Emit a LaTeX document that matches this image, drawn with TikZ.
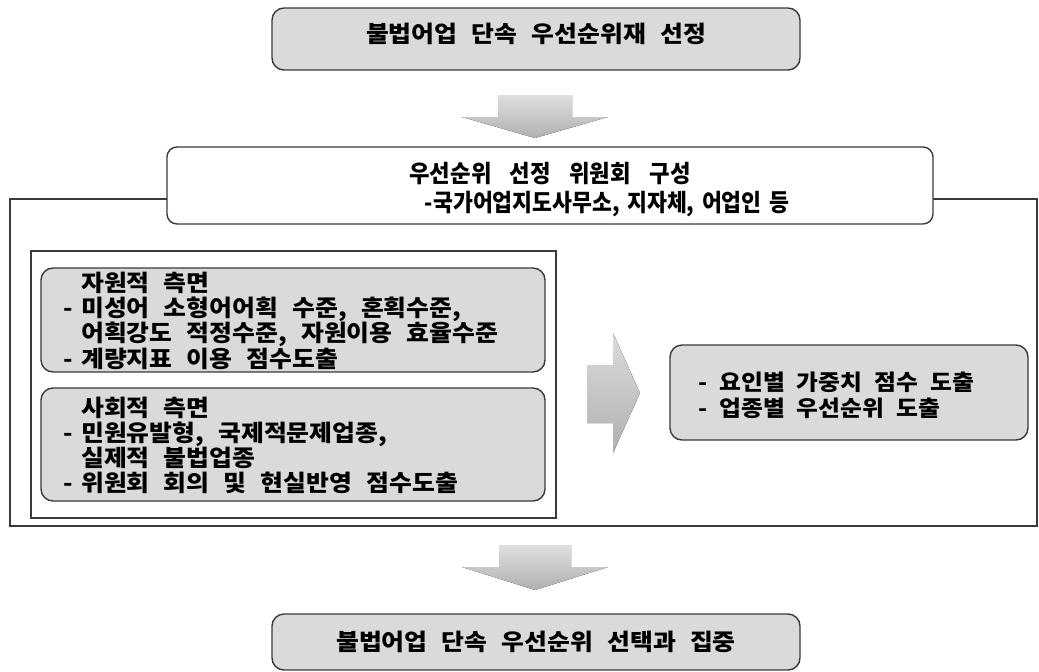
\documentclass[tikz,border=0pt]{standalone}
\usepackage{fontspec}
\newfontfamily\krw[FakeStretch=1.08,WordSpace=2.5]{Noto Sans CJK KR}
\newfontfamily\krca[FakeStretch=0.93,WordSpace=3.6]{Noto Sans CJK KR}
\newfontfamily\krcb[FakeStretch=0.901,WordSpace=1.5]{Noto Sans CJK KR}
\newfontfamily\krr[FakeStretch=1.081,WordSpace=2.2]{Noto Sans CJK KR}
\usetikzlibrary{calc}
\definecolor{boxfill}{HTML}{DADADA}
\definecolor{edge}{HTML}{3A3A3A}
\newcommand\dsh{\makebox[18pt][l]{-}}
\newcommand\ind{\hspace*{18pt}}
\begin{document}
\begin{tikzpicture}[x=1pt,y=-1pt,
  gbox/.style={draw=edge, line width=1.4pt, fill=boxfill, rounded corners=12pt, inner sep=0pt},
  wbox/.style={draw=edge, line width=1.4pt, fill=white, rounded corners=10pt, inner sep=0pt},
  frameline/.style={draw=edge, line width=1.3pt},
  maintext/.style={font=\krw\bfseries\fontsize{23}{24.7}\selectfont},
  listtext/.style={font=\krw\bfseries\fontsize{23}{24.5}\selectfont, align=left, anchor=north west, inner sep=0pt},
  commtext/.style={anchor=base, inner sep=0pt},
  blockarrow/.style={top color=gray!25, bottom color=gray!62, draw=none}
]
\useasboundingbox (0,0) rectangle (1039,672);

% outer frame
\draw[frameline] (10,199) rectangle (1037,526);

% top box
\node[gbox, maintext, minimum width=528pt, minimum height=62pt, text height=15pt, text depth=8pt] (top) at (536,39) {불법어업 단속 우선순위재 선정};

% committee box
\node[wbox, minimum width=766pt, minimum height=77pt] (comm) at (550,185.5) {};
\node[commtext, font=\krca\bfseries\fontsize{24}{29}\selectfont] (comm1) at (550,182) {우선순위 선정 위원회 구성};
\node[commtext, font=\krcb\bfseries\fontsize{24}{29}\selectfont] (comm2) at (607,211) {-국가어업지도사무소, 지자체, 어업인 등};

% down arrow 1
\fill[blockarrow] (498,95) -- (572,95) -- (572,117) -- (608,117) -- (535,138) -- (462,117) -- (498,117) -- cycle;

% inner box
\node[draw=edge, line width=1.2pt, fill=white, minimum width=525pt, minimum height=267pt, inner sep=0pt] (inner) at (293.5,384.5) {};

% resource box
\node[gbox, minimum width=504pt, minimum height=104pt] (res) at (293,320) {};
\node[listtext] (restext) at (63,272)
  {\ind 자원적 측면\\\dsh 미성어 소형어어획 수준, 혼획수준,\\\ind 어획강도 적정수준, 자원이용 효율수준\\\dsh 계량지표 이용 점수도출};

% social box
\node[gbox, minimum width=504pt, minimum height=113pt] (soc) at (293,444.5) {};
\node[listtext] (soctext) at (63,397)
  {\ind 사회적 측면\\\dsh 민원유발형, 국제적문제업종,\\\ind 실제적 불법업종\\\dsh 위원회 회의 및 현실반영 점수도출};

% right arrow
\fill[top color=gray!28, bottom color=gray!62] (587,365) -- (613,365) -- (613,333) -- (640,393) -- (613,453) -- (613,423) -- (587,423) -- cycle;

% result box
\node[gbox, minimum width=358pt, minimum height=95pt] (resbox) at (849,392.5) {};
\node[listtext, font=\krr\bfseries\fontsize{22}{26}\selectfont] (restxt) at (698,372)
  {- 요인별 가중치 점수 도출\\- 업종별 우선순위 도출};

% down arrow 2
\fill[blockarrow] (499,545) -- (571,545) -- (571,567) -- (608,567) -- (535,590) -- (462,567) -- (499,567) -- cycle;

% bottom box
\node[gbox, maintext, minimum width=528pt, minimum height=56pt] (bot) at (536,642) {불법어업 단속 우선순위 선택과 집중};
\end{tikzpicture}
\end{document}
